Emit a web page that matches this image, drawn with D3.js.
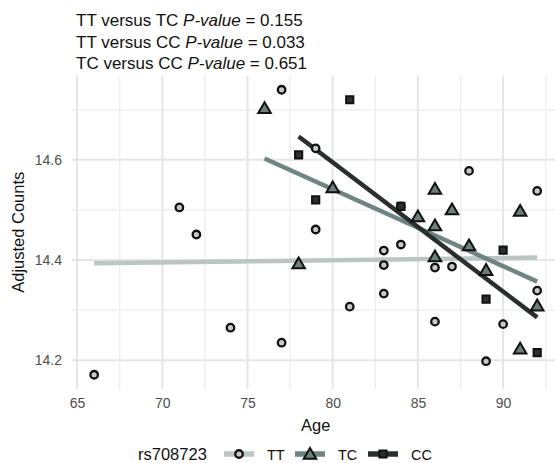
<!DOCTYPE html>
<html>
<head>
<meta charset="utf-8">
<script src="https://cdn.jsdelivr.net/npm/d3@7"></script>
<style>
body{margin:0;background:#fff;}
text{font-family:"Liberation Sans",Arial,Helvetica,sans-serif;}
</style>
</head>
<body>
<div id="chart"></div>
<script>
// genotype groups
var groups = ["TT","TC","CC"];

// age / adjusted counts per genotype
var ageTT = [66,71,72,74,77,77,79,79,81,83,83,83,84,84,86,86,87,88,89,90,92,92];
var cntTT = [14.171,14.505,14.451,14.265,14.74,14.235,14.623,14.461,14.307,14.419,14.39,14.333,14.507,14.431,14.385,14.277,14.387,14.578,14.198,14.272,14.538,14.339];
var ageTC = [76,78,80,85,86,86,86,87,88,89,91,91,92];
var cntTC = [14.703,14.393,14.545,14.487,14.542,14.469,14.407,14.501,14.429,14.38,14.498,14.223,14.309];
var ageCC = [78,79,81,84,89,90,92];
var cntCC = [14.61,14.52,14.72,14.507,14.322,14.42,14.215];

var titleLines = [
	["TT versus TC ","P-value"," = 0.155"],
	["TT versus CC ","P-value"," = 0.033"],
	["TC versus CC ","P-value"," = 0.651"]
];
var xTicks = [65,70,75,80,85,90];
var yTicks = [14.2,14.4,14.6];

var fillCol = {TT:"#c6cac9",TC:"#6c7f7d",CC:"#2b302f"};
var lineCol = {TT:"#bac5c4",TC:"#6f8583",CC:"#2a2f2e"};

var data = {
	TT: ageTT.map(function(a,i){return {age:a,val:cntTT[i]};}),
	TC: ageTC.map(function(a,i){return {age:a,val:cntTC[i]};}),
	CC: ageCC.map(function(a,i){return {age:a,val:cntCC[i]};})
};

var W = 555, H = 463;
var pLeft = 72, pTop = 75.5, pBottom = 389;

var all = [].concat(data.TT, data.TC, data.CC);
var xe = d3.extent(all, function(d){return d.age;});
var ye = d3.extent(all, function(d){return d.val;});
var xp = (xe[1]-xe[0])*0.05, yp = (ye[1]-ye[0])*0.05;
var pxPerYear = 17.04;
var x = d3.scaleLinear().domain([xe[0]-xp, xe[1]+xp])
	.range([pLeft, pLeft + (xe[1]-xe[0]+2*xp)*pxPerYear]);
var y = d3.scaleLinear().domain([ye[0]-yp, ye[1]+yp]).range([pBottom, pTop]);
var pRight = x.range()[1];

var svg = d3.select("#chart").append("svg")
	.attr("width", W).attr("height", H);

// grid
var xMinor = d3.range(62.5, 95, 5).filter(function(v){return v>x.domain()[0] && v<x.domain()[1];});
var yMinor = [14.3,14.5,14.7].filter(function(v){return v>y.domain()[0] && v<y.domain()[1];});
var grid = svg.append("g");
grid.selectAll(".xminor").data(xMinor).enter().append("line")
	.attr("x1",function(d){return x(d);}).attr("x2",function(d){return x(d);})
	.attr("y1",pTop).attr("y2",pBottom)
	.attr("stroke","#ededed").attr("stroke-width",1.3);
grid.selectAll(".yminor").data(yMinor).enter().append("line")
	.attr("y1",function(d){return y(d);}).attr("y2",function(d){return y(d);})
	.attr("x1",pLeft).attr("x2",pRight)
	.attr("stroke","#ededed").attr("stroke-width",1.3);
grid.selectAll(".xmajor").data(xTicks).enter().append("line")
	.attr("x1",function(d){return x(d);}).attr("x2",function(d){return x(d);})
	.attr("y1",pTop).attr("y2",pBottom)
	.attr("stroke","#e6e6e6").attr("stroke-width",2);
grid.selectAll(".ymajor").data(yTicks).enter().append("line")
	.attr("y1",function(d){return y(d);}).attr("y2",function(d){return y(d);})
	.attr("x1",pLeft).attr("x2",pRight)
	.attr("stroke","#e6e6e6").attr("stroke-width",2);

// axes (no lines, just labels)
var xAxis = d3.axisBottom(x).tickValues(xTicks).tickSize(0).tickPadding(9);
var gx = svg.append("g").attr("transform","translate(0,"+pBottom+")").call(xAxis);
gx.select(".domain").remove();
gx.selectAll("text").attr("font-size","14px").attr("fill","#4d4d4d")
	.style("font-family","'Liberation Sans',Arial,sans-serif");

var yAxis = d3.axisLeft(y).tickValues(yTicks).tickSize(0).tickPadding(10).tickFormat(d3.format(".1f"));
var gy = svg.append("g").attr("transform","translate("+pLeft+",0)").call(yAxis);
gy.select(".domain").remove();
gy.selectAll("text").attr("font-size","14px").attr("fill","#4d4d4d")
	.style("font-family","'Liberation Sans',Arial,sans-serif");

svg.append("text")
	.attr("x",(pLeft+pRight)/2).attr("y",431)
	.attr("text-anchor","middle").attr("font-size","16.5px").attr("fill","#111")
	.text("Age");
svg.append("text")
	.attr("transform","translate(24,"+((pTop+pBottom)/2)+")rotate(-90)")
	.attr("text-anchor","middle").attr("font-size","16.5px").attr("fill","#111")
	.text("Adjusted Counts");

// title
var title = svg.append("g");
titleLines.forEach(function(l,i){
	var t = title.append("text").attr("x",76).attr("y",26+i*21.5)
		.attr("font-size","17px").attr("fill","#111");
	t.append("tspan").text(l[0]);
	t.append("tspan").attr("font-style","italic").text(l[1]);
	t.append("tspan").text(l[2]);
});

// linear fits
function fit(pts){
	var mx = d3.mean(pts,function(d){return d.age;});
	var my = d3.mean(pts,function(d){return d.val;});
	var sxy = d3.sum(pts,function(d){return (d.age-mx)*(d.val-my);});
	var sxx = d3.sum(pts,function(d){return (d.age-mx)*(d.age-mx);});
	var b = sxy/sxx, a = my - b*mx;
	var ex = d3.extent(pts,function(d){return d.age;});
	return ex.map(function(v){return {age:v,val:a+b*v};});
}
var line = d3.line().x(function(d){return x(d.age);}).y(function(d){return y(d.val);});
groups.forEach(function(g){
	svg.append("path").datum(fit(data[g]))
		.attr("d",line).attr("fill","none")
		.attr("stroke",lineCol[g]).attr("stroke-width",4.5);
});

// points
var sym = {TT:d3.symbolCircle, TC:d3.symbolTriangle, CC:d3.symbolSquare};
var symSize = {TT:44, TC:68, CC:52};
function drawSym(sel,g){
	sel.attr("d",d3.symbol().type(sym[g]).size(symSize[g]))
		.attr("fill",fillCol[g]).attr("stroke","#111").attr("stroke-width",g=="TT"?2.3:2);
}
groups.forEach(function(g){
	svg.append("g").selectAll("path").data(data[g]).enter().append("path")
		.attr("transform",function(d){
			var dy = g=="TC" ? 1.2 : 0;
			return "translate("+x(d.age)+","+(y(d.val)+dy)+")";
		})
		.call(drawSym,g);
});

// legend
var leg = svg.append("g").attr("transform","translate(0,454)");
leg.append("text").attr("x",138).attr("y",6).attr("font-size","16.5px").attr("fill","#111").text("rs708723");
var keyX = {TT:224, TC:295, CC:368};
groups.forEach(function(g){
	var k = leg.append("g").attr("transform","translate("+keyX[g]+",0)");
	k.append("line").attr("x1",0).attr("x2",30).attr("y1",0).attr("y2",0)
		.attr("stroke",lineCol[g]).attr("stroke-width",5.5);
	k.append("path").attr("transform","translate(15,"+(g=="TC"?1.2:0)+")").call(drawSym,g);
	leg.append("text").attr("x",keyX[g]+43).attr("y",5.5).attr("font-size","14.5px").attr("fill","#111").text(g);
});
</script>
</body>
</html>
